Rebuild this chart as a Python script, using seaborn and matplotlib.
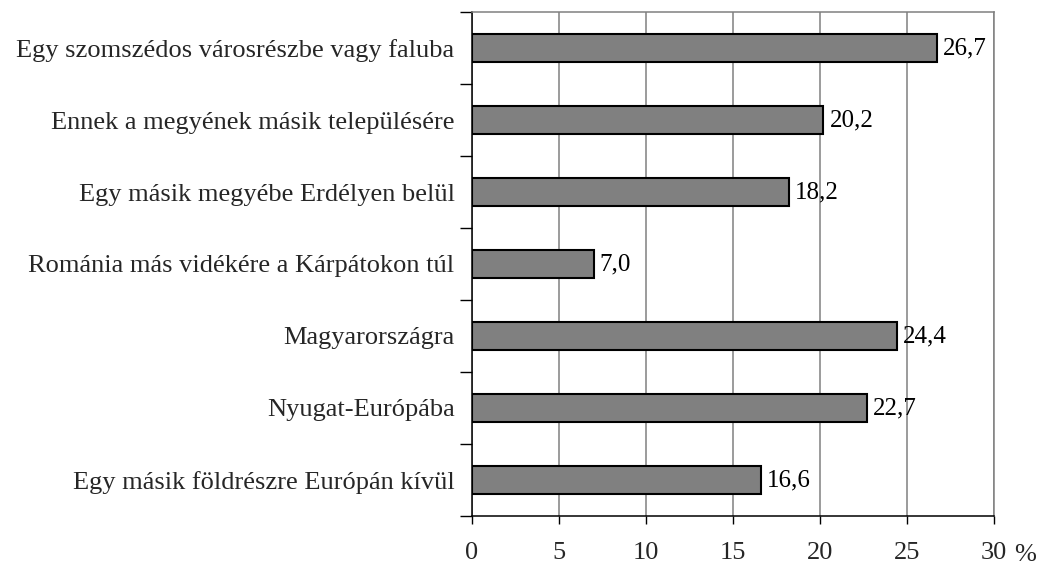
import pandas as pd
import seaborn as sns
import matplotlib.pyplot as plt

categories = ['Egy szomszédos városrészbe vagy faluba',
              'Ennek a megyének másik településére',
              'Egy másik megyébe Erdélyen belül',
              'Románia más vidékére a Kárpátokon túl',
              'Magyarországra',
              'Nyugat-Európába',
              'Egy másik földrészre Európán kívül']
values = [26.7, 20.2, 18.2, 7.0, 24.4, 22.7, 16.6]
xticks = [0, 5, 10, 15, 20, 25, 30]

df = pd.DataFrame({'cat': categories, 'val': values})

sns.set_style('white')
plt.rcParams['font.family'] = ['Liberation Serif', 'DejaVu Serif']
fs = 19

fig = plt.figure(figsize=(10.4, 5.67), dpi=100)
ax = fig.add_axes([0.4538, 0.0900, 0.5020, 0.8888])

sns.barplot(data=df, x='val', y='cat', orient='h', color='#808080',
            edgecolor='black', linewidth=1.5, width=0.39, saturation=1, ax=ax, zorder=3)

for i, v in enumerate(values):
    ax.text(v + 0.35, i, f'{v:.1f}'.replace('.', ','), va='center', ha='left',
            fontsize=18, color='black')

ax.set_xlim(0, 30)
ax.set_ylim(len(categories) - 0.5, -0.5)
ax.set_xticks(xticks)
ax.set_xticklabels([str(t) for t in xticks], fontsize=fs)
ax.text(1.06, -0.077, '%', transform=ax.transAxes, fontsize=fs, ha='center', va='center')

ax.set_yticks(range(len(categories)))
ax.set_yticklabels(categories, fontsize=fs)
ax.set_yticks([i - 0.5 for i in range(len(categories) + 1)], minor=True)
ax.tick_params(axis='y', which='major', left=False, pad=9)
ax.tick_params(axis='y', which='minor', left=True, length=9, width=1, color='black', direction='out')
ax.tick_params(axis='x', which='major', bottom=True, length=6, width=1, color='black',
               direction='out', pad=13)

ax.xaxis.grid(True, color='#808080', linewidth=1.1, zorder=0)
ax.yaxis.grid(False)
ax.set_axisbelow(True)

for s in ['top', 'right']:
    ax.spines[s].set_color('#808080')
    ax.spines[s].set_linewidth(1.1)
for s in ['left', 'bottom']:
    ax.spines[s].set_color('black')
    ax.spines[s].set_linewidth(1.1)

ax.set_xlabel('')
ax.set_ylabel('')

fig.savefig('out.png', dpi=100)
